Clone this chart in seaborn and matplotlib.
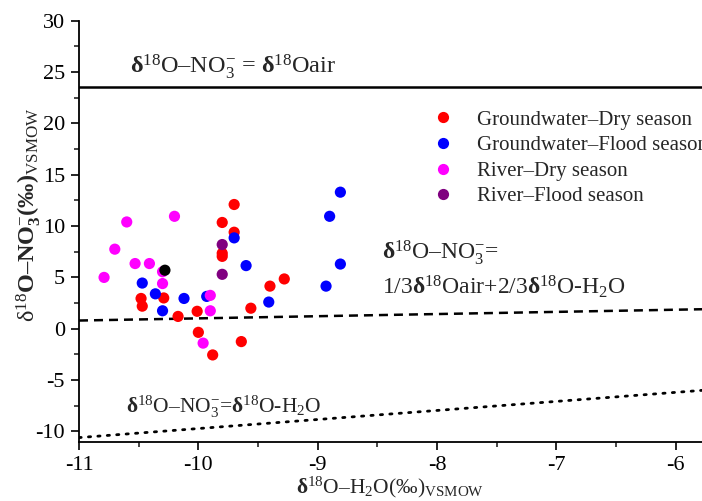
import matplotlib
matplotlib.use("Agg")
import matplotlib.pyplot as plt
import seaborn as sns
import pandas as pd
import numpy as np

# ---------------- data ----------------
gw_dry_x = [-9.70, -9.80, -9.70, -9.80, -9.80, -9.28, -9.40, -10.48, -10.47, -10.29,
            -10.01, -9.56, -10.17, -10.00, -9.64, -9.88]
gw_dry_y = [12.1, 10.35, 9.4, 7.35, 7.05, 4.85, 4.15, 2.95, 2.2, 3.0,
            1.7, 2.0, 1.2, -0.35, -1.25, -2.55]
gw_flood_x = [-9.70, -9.60, -10.47, -10.36, -10.12, -9.93, -9.41, -10.30,
              -8.81, -8.90, -8.81, -8.93]
gw_flood_y = [8.85, 6.15, 4.45, 3.4, 2.95, 3.15, 2.6, 1.75,
              13.3, 10.95, 6.3, 4.15]
river_dry_x = [-10.60, -10.20, -10.70, -10.53, -10.41, -10.30, -10.79, -10.30,
               -9.90, -9.90, -9.96]
river_dry_y = [10.4, 10.95, 7.75, 6.35, 6.35, 5.55, 5.0, 4.4,
               3.25, 1.75, -1.4]
river_flood_x = [-9.80, -9.80]
river_flood_y = [8.2, 5.3]
other_x = [-10.28]
other_y = [5.7]

groups = ["Groundwater–Dry season", "Groundwater–Flood season",
          "River–Dry season", "River–Flood season"]

air_value = 23.5
mix_line_x = [-11.0, -5.78]
mix_line_y = [0.8, 1.9]
water_line_x = [-11.0, -5.78]
water_line_y = [-10.6, -6.0]

df = pd.DataFrame({
    "x": gw_dry_x + gw_flood_x + river_dry_x + river_flood_x,
    "y": gw_dry_y + gw_flood_y + river_dry_y + river_flood_y,
    "group": [groups[0]] * len(gw_dry_x) + [groups[1]] * len(gw_flood_x)
             + [groups[2]] * len(river_dry_x) + [groups[3]] * len(river_flood_x),
})

# ---------------- style ----------------
sns.set_style("ticks")
plt.rcParams["font.family"] = ["Liberation Serif", "DejaVu Serif"]
plt.rcParams["mathtext.fontset"] = "custom"
plt.rcParams["mathtext.rm"] = "Liberation Serif"
plt.rcParams["mathtext.it"] = "Liberation Serif:italic"
plt.rcParams["mathtext.bf"] = "Liberation Serif:bold"

fig = plt.figure(figsize=(7.02, 5.01), dpi=100)
ax = fig.add_axes([79 / 702, 1 - 441.7 / 501, 1 - 79 / 702, (441.7 - 20.7) / 501])

palette = {groups[0]: "#ff0000", groups[1]: "#0000ff",
           groups[2]: "#ff00ff", groups[3]: "#800080"}

sns.scatterplot(data=df, x="x", y="y", hue="group", palette=palette,
                hue_order=groups, s=65, edgecolor="none", ax=ax, zorder=3)
sns.scatterplot(x=other_x, y=other_y, color="black", s=65, edgecolor="none",
                ax=ax, zorder=4, legend=False)

ax.axhline(air_value, color="black", lw=1.8, zorder=2)
ax.plot(mix_line_x, mix_line_y, color="black", lw=1.8, dashes=(3.6, 2.4), zorder=2)
ax.plot(water_line_x, water_line_y, color="black", lw=2.0, dashes=(0.8, 2.6),
        dash_capstyle="round", zorder=2)

ax.set_xlim(-11, -5.78)
ax.set_ylim(-11, 30)
ax.set_xticks([-11, -10, -9, -8, -7, -6])
ax.set_xticklabels(["-11", "-10", "-9", "-8", "-7", "-6"])
ax.set_yticks([-10, -5, 0, 5, 10, 15, 20, 25, 30])
ax.set_yticklabels(["-10", "-5", "0", "5", "10", "15", "20", "25", "30"])
ax.set_xticks(np.arange(-10.5, -5.7, 1.0), minor=True)
ax.set_yticks(np.arange(-7.5, 30, 5.0), minor=True)
ax.tick_params(axis="both", which="major", direction="out", length=6, width=1.2,
               labelsize=16, colors="black", pad=4)
ax.tick_params(axis="both", which="minor", direction="out", length=3.5, width=1.2)
sns.despine(ax=ax)
for sp in ("left", "bottom"):
    ax.spines[sp].set_linewidth(1.3)
    ax.spines[sp].set_color("black")

ax.set_xlabel(r"$\mathbf{δ}^{18}$O–H$_2$O(‰)$_{\mathrm{VSMOW}}$", fontsize=15.5, labelpad=0)
ax.set_ylabel(r"δ$^{18}\mathbf{O–NO}_{\mathbf{3}}^{-}\mathbf{(‰)}_{\mathrm{VSMOW}}$", fontsize=17.5)
ax.yaxis.set_label_coords(-0.058, 0.54)

ax.text(-10.573, 25.5, r"$\mathbf{δ}^{18}$O–NO$_3^{-}$ = $\mathbf{δ}^{18}$Oair",
        fontsize=17.5, ha="left", va="center")
ax.text(-8.46, 7.4, r"$\mathbf{δ}^{18}$O–NO$_3^{-}$=", fontsize=17,
        ha="left", va="center")
ax.text(-8.46, 4.1, r"1/3$\mathbf{δ}^{18}$Oair+2/3$\mathbf{δ}^{18}$O-H$_2$O",
        fontsize=17, ha="left", va="center")
ax.text(-10.61, -7.6, r"$\mathbf{δ}^{18}$O–NO$_3^{-}$=$\mathbf{δ}^{18}$O-H$_2$O",
        fontsize=15.5, ha="left", va="center")

leg = ax.legend(frameon=False, loc="upper left",
                bbox_to_anchor=(422 / 702, 1 - 110 / 501),
                bbox_transform=fig.transFigure, fontsize=15,
                handletextpad=0.62, labelspacing=0.29, borderaxespad=0,
                borderpad=0, markerscale=1.0)

fig.savefig("out.png", dpi=100)
